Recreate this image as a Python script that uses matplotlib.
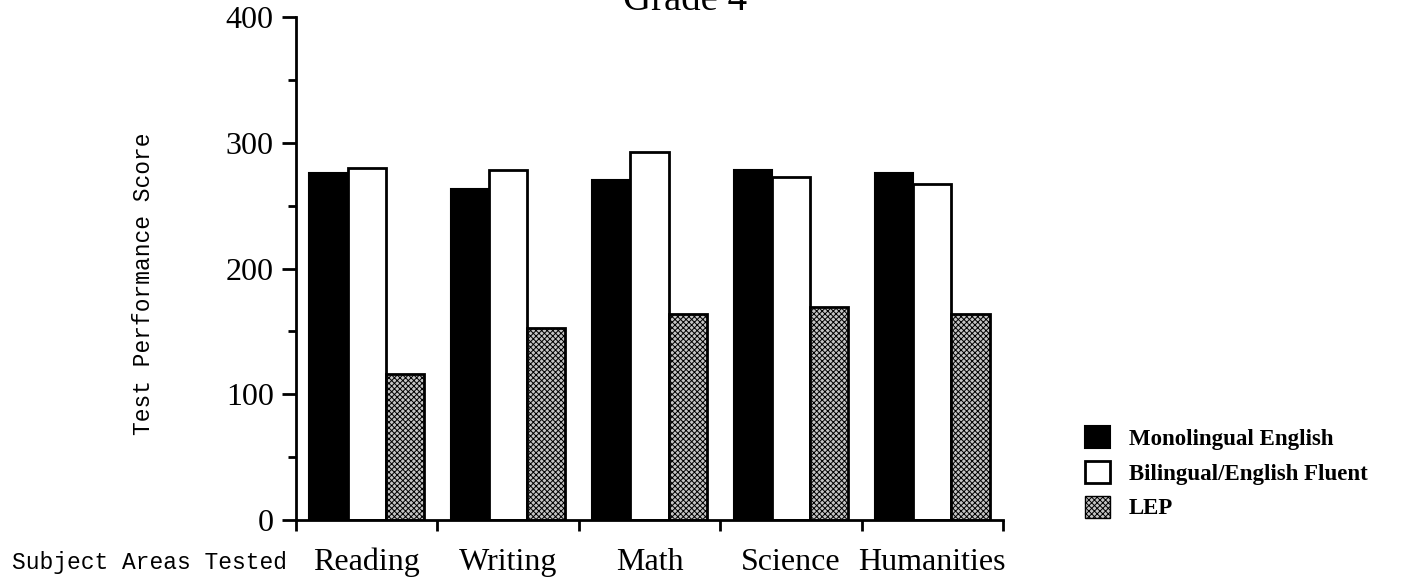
import numpy as np
import matplotlib
matplotlib.use('Agg')
import matplotlib.pyplot as plt
from matplotlib.patches import Patch
from matplotlib.ticker import FixedLocator, NullFormatter

subjects = ['Reading', 'Writing', 'Math', 'Science', 'Humanities']
monolingual = [276, 263, 270, 278, 276]
bilingual = [280, 278, 293, 273, 267]
lep = [116, 153, 164, 169, 164]

series_names = ['Monolingual English', 'Bilingual/English Fluent', 'LEP']

SERIF = 'Liberation Serif'
MONO = 'Liberation Mono'

plt.rcParams['hatch.linewidth'] = 0.7


def main():
    fig = plt.figure(figsize=(14.13, 5.84), dpi=100)
    ax = fig.add_axes([296 / 1413, 1 - 520 / 584, 707 / 1413, 503 / 584])

    x = np.arange(len(subjects))
    width = 0.27
    ax.bar(x - width, monolingual, width, color='black', edgecolor='black', linewidth=1.5, zorder=2)
    ax.bar(x, bilingual, width, color='white', edgecolor='black', linewidth=2, zorder=2)
    ax.bar(x + width, lep, width, color='#c4c4c4', edgecolor='black', linewidth=2,
           hatch='xxxxxx', zorder=2)

    ax.set_xlim(-0.5, len(subjects) - 0.5)
    ax.set_ylim(0, 400)

    for side in ['top', 'right']:
        ax.spines[side].set_visible(False)
    for side in ['left', 'bottom']:
        ax.spines[side].set_linewidth(2)

    # y ticks
    ax.set_yticks([0, 100, 200, 300, 400])
    ax.yaxis.set_minor_locator(FixedLocator([50, 150, 250, 350]))
    ax.tick_params(axis='y', which='major', direction='out', length=10, width=2, pad=6)
    ax.tick_params(axis='y', which='minor', direction='out', length=6, width=2)
    for lbl in ax.get_yticklabels():
        lbl.set_fontfamily(SERIF)
        lbl.set_fontsize(23)

    # x ticks: marks at category edges, labels at centres
    ax.set_xticks(np.arange(-0.5, len(subjects), 1.0))
    ax.xaxis.set_major_formatter(NullFormatter())
    ax.tick_params(axis='x', which='major', direction='out', length=8, width=2)
    ax.set_xticks(x, minor=True)
    ax.set_xticklabels(subjects, minor=True, fontfamily=SERIF, fontsize=23)
    ax.tick_params(axis='x', which='minor', length=0, pad=20)

    fig.text(144 / 1413, 1 - 284 / 584, 'Test Performance Score', rotation=90,
             ha='center', va='center', fontfamily=MONO, fontsize=16.5)
    fig.text(12 / 1413, 1 - 562 / 584, 'Subject Areas Tested', ha='left', va='center',
             fontfamily=MONO, fontsize=16.5)

    fig.text(685 / 1413, 1 - 10 / 584, 'Grade 4', ha='center', va='baseline',
             fontfamily=SERIF, fontsize=28)

    handles = [
        Patch(facecolor='black', edgecolor='black', linewidth=1.5),
        Patch(facecolor='white', edgecolor='black', linewidth=2),
        Patch(facecolor='#c4c4c4', edgecolor='black', linewidth=1, hatch='xxxxxx'),
    ]
    fig.legend(handles, series_names, loc='upper left',
               bbox_to_anchor=(1085 / 1413, 1 - 426 / 584), frameon=False,
               prop={'family': SERIF, 'weight': 'bold', 'size': 16.5},
               handlelength=1.1, handleheight=1.1, handletextpad=0.8,
               labelspacing=0.48, borderpad=0, borderaxespad=0)

    fig.savefig('out.png', dpi=100)
    plt.close(fig)


if __name__ == '__main__':
    main()
